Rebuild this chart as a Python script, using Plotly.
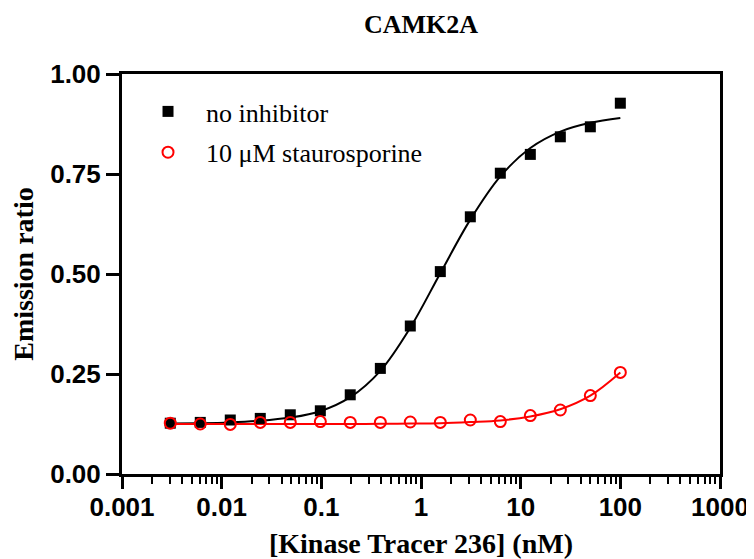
import plotly.graph_objects as go

# Tracer concentrations (nM), 2-fold dilution series
conc = [0.00305, 0.0061, 0.0122, 0.0244, 0.0488, 0.0977, 0.195, 0.391,
        0.781, 1.5625, 3.125, 6.25, 12.5, 25, 50, 100]

# Measured emission ratios
no_inhibitor = [0.127, 0.129, 0.135, 0.139, 0.148, 0.158, 0.198, 0.264,
                0.370, 0.506, 0.643, 0.752, 0.799, 0.843, 0.868, 0.927]
stauro = [0.127, 0.125, 0.124, 0.129, 0.129, 0.131, 0.129, 0.129,
          0.130, 0.129, 0.135, 0.131, 0.146, 0.160, 0.196, 0.254]

# Fitted curves at the same concentrations
fit_no_inhibitor = [0.126, 0.127, 0.129, 0.133, 0.141, 0.157, 0.192, 0.258,
                    0.366, 0.502, 0.636, 0.744, 0.815, 0.856, 0.878, 0.890]
fit_stauro = [0.125, 0.125, 0.125, 0.125, 0.125, 0.125, 0.125, 0.1255,
              0.126, 0.127, 0.130, 0.134, 0.144, 0.162, 0.196, 0.254]

x_tickvals = [0.001, 0.01, 0.1, 1, 10, 100, 1000]
x_ticktext = ["0.001", "0.01", "0.1", "1", "10", "100", "1000"]
y_tickvals = [0, 0.25, 0.5, 0.75, 1.0]
y_ticktext = ["0.00", "0.25", "0.50", "0.75", "1.00"]

SERIF = "Liberation Serif, Times New Roman, serif"
SANS = "Liberation Sans, Arial, sans-serif"

fig = go.Figure()
fig.add_trace(go.Scatter(x=conc, y=fit_no_inhibitor, mode="lines",
                         line=dict(color="black", width=2, shape="spline"),
                         showlegend=False, hoverinfo="skip"))
fig.add_trace(go.Scatter(x=conc, y=fit_stauro, mode="lines",
                         line=dict(color="#ff0000", width=2, shape="spline"),
                         showlegend=False, hoverinfo="skip"))
fig.add_trace(go.Scatter(x=conc, y=no_inhibitor, mode="markers", name="no inhibitor",
                         legendgroup="a",
                         marker=dict(symbol="square", size=11, color="black")))
fig.add_trace(go.Scatter(x=conc, y=stauro, mode="markers", name="10 μM staurosporine",
                         legendgroup="b",
                         marker=dict(symbol="circle-open", size=11, color="#ff0000",
                                     line=dict(width=2, color="#ff0000"))))

fig.update_layout(
    width=746, height=551,
    margin=dict(l=114, r=34, t=66, b=85, autoexpand=False),
    plot_bgcolor="white", paper_bgcolor="white",
    title=dict(text="CAMK2A", x=0.5, xref="paper", xanchor="center",
               y=1 - 16 / 551, yref="container", yanchor="middle",
               font=dict(family=SERIF, size=26, color="black", weight="bold")),
    legend=dict(x=0.0134, y=0.965, xanchor="left", yanchor="top",
                bgcolor="rgba(0,0,0,0)", borderwidth=0, itemwidth=66,
                font=dict(family=SERIF, size=26, color="black"),
                tracegroupgap=4, traceorder="grouped"),
    xaxis=dict(type="log", range=[-3, 3], tickvals=x_tickvals, ticktext=x_ticktext,
               automargin=False,
               showline=True, linecolor="black", linewidth=3, mirror=True,
               ticks="outside", ticklen=12, tickwidth=3, tickcolor="black",
               ticklabelstandoff=-4,
               showgrid=False, zeroline=False,
               minor=dict(ticks="outside", ticklen=7, tickwidth=2, tickcolor="black",
                          dtick="D1", showgrid=False),
               tickfont=dict(family=SANS, size=26, color="black", weight="bold"),
               title=dict(text="[Kinase Tracer 236] (nM)", standoff=21,
                          font=dict(family=SERIF, size=28, color="black", weight="bold"))),
    yaxis=dict(range=[0, 1.0], tickvals=y_tickvals, ticktext=y_ticktext,
               automargin=False,
               showline=True, linecolor="black", linewidth=3, mirror=True,
               ticks="outside", ticklen=13, tickwidth=3, tickcolor="black",
               showgrid=False, zeroline=False,
               tickfont=dict(family=SANS, size=26, color="black", weight="bold"),
               title=dict(text="Emission ratio", standoff=12,
                          font=dict(family=SERIF, size=28, color="black", weight="bold"))),
)

fig.write_html("out.html")
